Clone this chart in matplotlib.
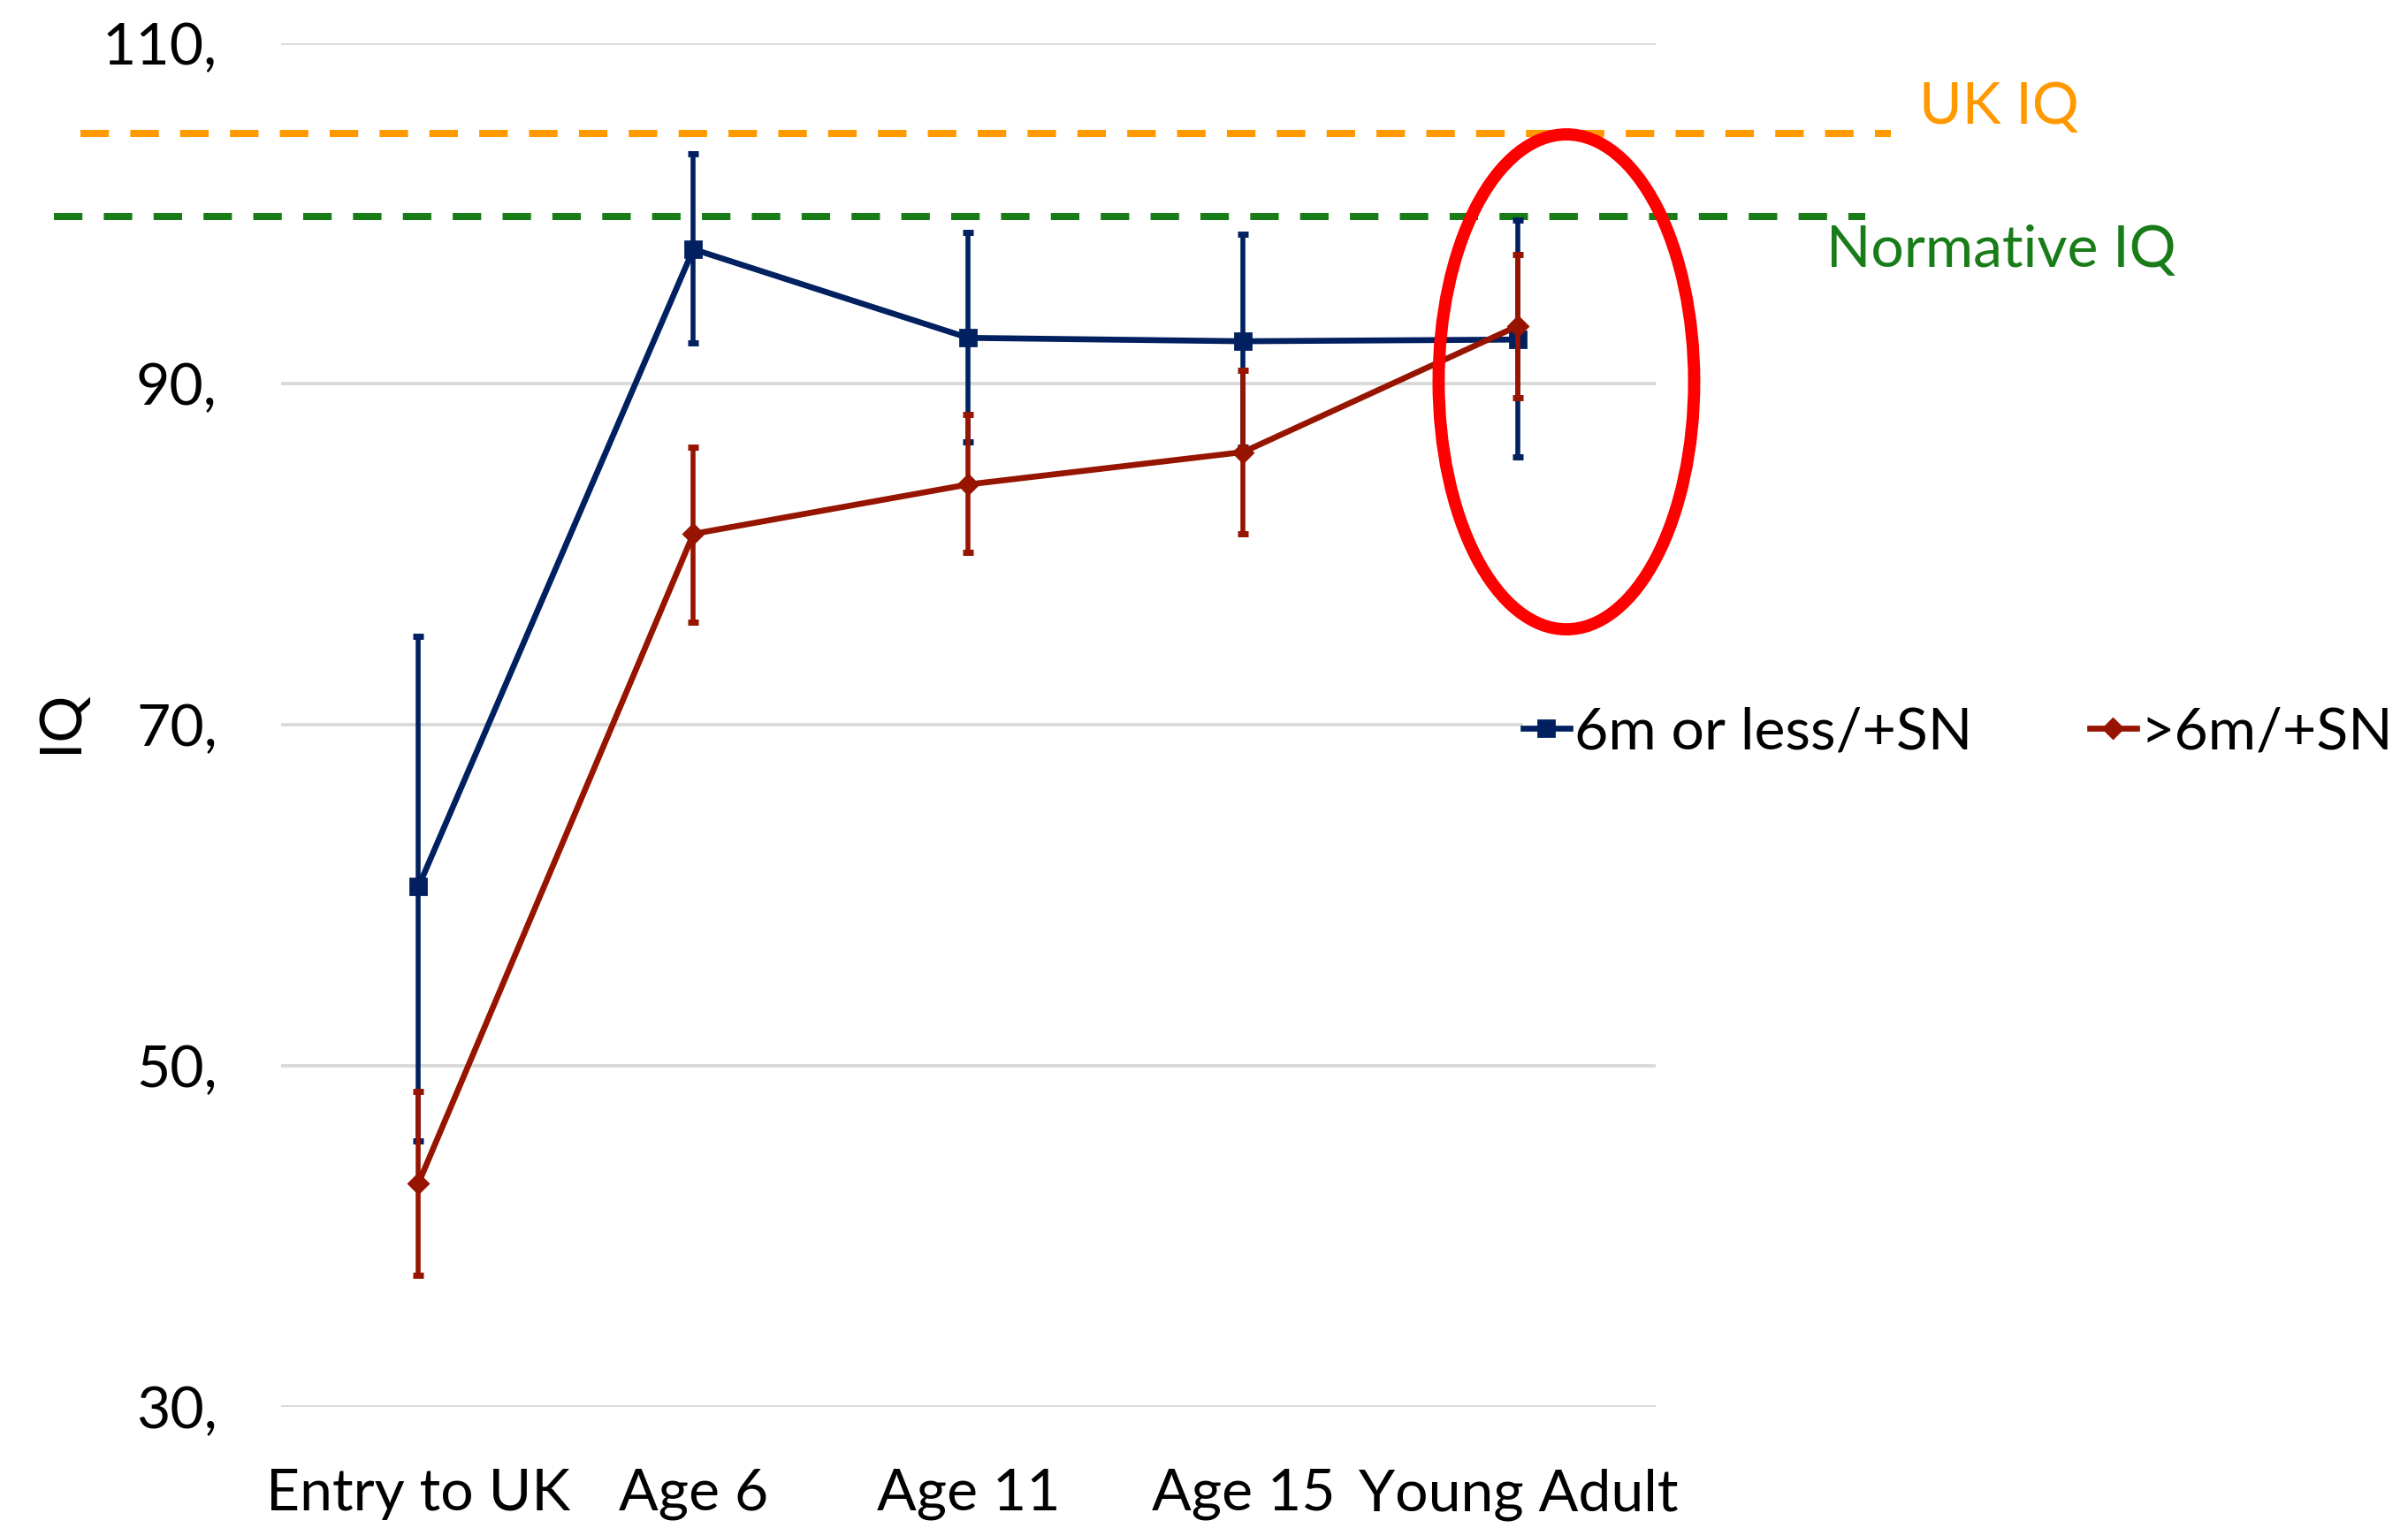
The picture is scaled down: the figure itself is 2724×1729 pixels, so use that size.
import matplotlib
matplotlib.use('Agg')
from matplotlib import pyplot as plt
from matplotlib.patches import Ellipse
from matplotlib.lines import Line2D
import matplotlib.transforms as mtransforms
import numpy as np

plt.rcParams['font.family'] = ['Lato', 'DejaVu Sans']

categories = ['Entry to UK', 'Age 6', 'Age 11', 'Age 15', 'Young Adult']
yticks = [30, 50, 70, 90, 110]
ytick_labels = ['30,', '50,', '70,', '90,', '110,']

# 6m or less/+SN
blue_mean = [60.5, 97.9, 92.7, 92.5, 92.6]
blue_upper = [75.2, 103.5, 98.9, 98.8, 99.6]
blue_lower = [45.6, 92.4, 86.6, 86.3, 85.7]

# >6m/+SN
red_mean = [43.1, 81.2, 84.1, 86.0, 93.4]
red_upper = [48.5, 86.3, 88.2, 90.8, 97.6]
red_lower = [37.7, 76.0, 80.1, 81.2, 89.2]

uk_iq = 104.7
normative_iq = 99.8

blue = '#002060'
red = '#961400'
orange = '#FF9900'
green = '#187C18'
fs = 23.8

fig = plt.figure(figsize=(13.62, 8.645), dpi=200)
ax = fig.add_axes([0.1167, 0.0794, 0.5708, 0.8925])

x = np.arange(len(categories))
bm = np.array(blue_mean)
rm = np.array(red_mean)
berr = [bm - np.array(blue_lower), np.array(blue_upper) - bm]
rerr = [rm - np.array(red_lower), np.array(red_upper) - rm]

ax.errorbar(x, bm, yerr=berr, color=blue, lw=2.4, marker='s', markersize=6.5,
            elinewidth=2.0, capsize=2.2, capthick=2.5, zorder=3)
ax.errorbar(x, rm, yerr=rerr, color=red, lw=2.4, marker='D', markersize=5.5,
            elinewidth=2.0, capsize=2.2, capthick=2.5, zorder=4)

ax.set_xlim(-0.5, len(categories) - 0.5)
ax.set_ylim(30, 110)
ax.set_yticks(yticks)
ax.set_yticklabels(ytick_labels)
ax.set_xticks(x)
ax.set_xticklabels(categories)
ax.tick_params(axis='both', length=0, labelsize=fs)
ax.tick_params(axis='y', pad=26)
ax.tick_params(axis='x', pad=25)
ax.grid(axis='y', color='#D9D9D9', lw=1.4)
ax.set_axisbelow(True)
for s in ax.spines.values():
    s.set_visible(False)

fig.text(0.0253, 0.528, 'IQ', rotation=90, fontsize=fs, ha='center', va='center')

# reference lines drawn past the plot area
tr = mtransforms.blended_transform_factory(fig.transFigure, ax.transData)
ax.plot([91 / 2724, 2139 / 2724], [uk_iq, uk_iq], transform=tr, color=orange, lw=2.9,
        dashes=(4, 3), clip_on=False, zorder=2)
ax.plot([61 / 2724, 2110 / 2724], [normative_iq, normative_iq], transform=tr, color=green,
        lw=2.9, dashes=(4, 3), clip_on=False, zorder=2)
fig.text(2171 / 2724, 1 - 140 / 1729, 'UK IQ', color=orange, fontsize=fs, va='baseline')
fig.text(2066 / 2724, 1 - 302 / 1729, 'Normative IQ', color=green, fontsize=fs, va='baseline')

ell = Ellipse((0.6505, 0.7501), 0.1061, 0.3239, transform=fig.transFigure,
              fill=False, edgecolor='#FF0000', lw=5.0, zorder=10)
fig.add_artist(ell)

handles = [Line2D([], [], color=blue, lw=2.4, marker='s', markersize=6.5),
           Line2D([], [], color=red, lw=2.4, marker='D', markersize=5.5)]
labels = ['6m or less/+SN', '>6m/+SN']
leg = fig.legend(handles, labels, loc='center left',
                 bbox_to_anchor=(1723 / 2724, 1 - 829 / 1729), ncol=2,
                 fontsize=fs, frameon=True, facecolor='white', edgecolor='none',
                 framealpha=1, borderpad=0, handlelength=0.8, handletextpad=0.08,
                 columnspacing=2.0, borderaxespad=0)

fig.savefig('out.png', dpi=200)
